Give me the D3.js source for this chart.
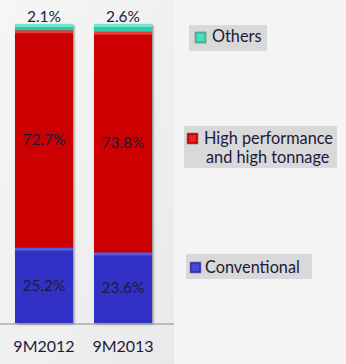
<!DOCTYPE html>
<html>
<head>
<meta charset="utf-8">
<script src="https://cdn.jsdelivr.net/npm/d3@7"></script>
<style>
  html, body { margin: 0; padding: 0; background: #f4f4f4; }
  svg { display: block; }
  text { font-family: Lato, "Open Sans", sans-serif; fill: #1b1b3a; }
</style>
</head>
<body>
<svg id="chart" width="346" height="364"></svg>
<script>
// Periods shown on the x axis
const periods = ["9M2012", "9M2013"];
// Segment series, stacked bottom to top
const seriesNames = ["Conventional", "High performance and high tonnage", "Others"];
const conventional = [25.2, 23.6];
const highPerformance = [72.7, 73.8];
const others = [2.1, 2.6];
const legendLines = [["Others"], ["High performance", "and high tonnage"], ["Conventional"]];

const colors = {
  "Conventional": { base: "#3131c6", light: "#5a5ae0" },
  "High performance and high tonnage": { base: "#cc0000", light: "#ea3a3a" },
  "Others": { base: "#2dcba6", light: "#6fe6cb" }
};

const svg = d3.select("#chart");
const W = 346, H = 364;

const defs = svg.append("defs");
const bg = defs.append("linearGradient").attr("id", "panelBg")
  .attr("x1", "0").attr("y1", "0").attr("x2", "1").attr("y2", "1");
bg.append("stop").attr("offset", "0").attr("stop-color", "#f6f6f6");
bg.append("stop").attr("offset", "0.6").attr("stop-color", "#efefef");
bg.append("stop").attr("offset", "1").attr("stop-color", "#e9e9e9");

const shadow = defs.append("filter").attr("id", "barShadow")
  .attr("x", "-10%").attr("y", "-5%").attr("width", "130%").attr("height", "115%");
shadow.append("feDropShadow").attr("dx", 1.2).attr("dy", 1.2)
  .attr("stdDeviation", 0.8).attr("flood-color", "#555").attr("flood-opacity", 0.7);

// Plot panel
const plotRight = 174;
svg.append("rect").attr("x", 0).attr("y", 0).attr("width", plotRight).attr("height", H)
  .attr("fill", "url(#panelBg)");

// Scales
const x = d3.scaleBand().domain(periods).range([15, 152]).paddingInner(0.266).paddingOuter(0);
const y = d3.scaleLinear().domain([0, 100]).range([323, 24]);

const table = periods.map((p, i) => ({
  period: p,
  "Conventional": conventional[i],
  "High performance and high tonnage": highPerformance[i],
  "Others": others[i]
}));
const stacked = d3.stack().keys(seriesNames)(table);

const bars = svg.append("g");
stacked.forEach(layer => {
  const key = layer.key;
  layer.forEach((seg, i) => {
    const g = bars.append("g");
    const x0 = x(periods[i]);
    const top = y(seg[1]), bottom = y(seg[0]);
    g.append("rect")
      .attr("x", x0).attr("y", top)
      .attr("width", x.bandwidth()).attr("height", bottom - top)
      .attr("fill", colors[key].base);
    g.append("rect")
      .attr("x", x0).attr("y", top)
      .attr("width", x.bandwidth()).attr("height", Math.min(3, bottom - top))
      .attr("fill", colors[key].light);
  });
});
// shadow outline around each full bar
periods.forEach(p => {
  bars.insert("rect", ":first-child")
    .attr("x", x(p)).attr("y", y(100))
    .attr("width", x.bandwidth()).attr("height", y(0) - y(100))
    .attr("fill", "#666").attr("filter", "url(#barShadow)");
});

// Axis line
const xAxis = d3.axisBottom(x).tickSize(0).tickPadding(17);
const ax = svg.append("g").attr("transform", `translate(0,${y(0) + 1})`).call(xAxis);
ax.select(".domain").attr("d", `M0,0H${plotRight}`).attr("stroke", "#8a8a8a").attr("stroke-width", 1);
ax.selectAll("text").attr("font-size", 16).attr("fill", "#1b1b3a")
  .style("font-family", "Lato, 'Open Sans', sans-serif");

// Value labels
const labels = svg.append("g").attr("font-size", 15.5).attr("text-anchor", "middle");
stacked.forEach(layer => {
  layer.forEach((seg, i) => {
    const cx = x(periods[i]) + x.bandwidth() / 2;
    const v = seg[1] - seg[0];
    let cy;
    if (layer.key === "Others") cy = y(seg[1]) - 8;
    else cy = (y(seg[0]) + y(seg[1])) / 2;
    labels.append("text").attr("x", cx).attr("y", cy).attr("dy", "0.36em")
      .text(v.toFixed(1) + "%");
  });
});

// Legend
const legendSpec = [
  { key: "Others", box: [189, 25, 78, 26], mark: [195, 32], text: [212, 42] },
  { key: "High performance and high tonnage", box: [184, 126, 153, 42], mark: [187, 133], text: [204, 144] },
  { key: "Conventional", box: [186, 254, 126, 25], mark: [190, 262], text: [205, 273] }
];
const legend = svg.append("g");
legendSpec.forEach((s, i) => {
  const g = legend.append("g");
  g.append("rect").attr("x", s.box[0]).attr("y", s.box[1])
    .attr("width", s.box[2]).attr("height", s.box[3]).attr("fill", "#d9d9d9");
  g.append("rect").attr("x", s.mark[0]).attr("y", s.mark[1]).attr("width", 11).attr("height", 11)
    .attr("fill", colors[s.key].base).attr("stroke", "#777").attr("stroke-width", 0.6);
  g.append("rect").attr("x", s.mark[0] + 2).attr("y", s.mark[1] + 2).attr("width", 7).attr("height", 7)
    .attr("fill", colors[s.key].light).attr("opacity", 0.6);
  const t = g.append("text").attr("x", s.text[0]).attr("y", s.text[1]).attr("font-size", 16.3);
  legendLines[i].forEach((line, j) => {
    t.append("tspan").attr("x", s.text[0] + (j ? 2 : 0)).attr("dy", j ? 19 : 0).text(line);
  });
});
</script>
</body>
</html>
